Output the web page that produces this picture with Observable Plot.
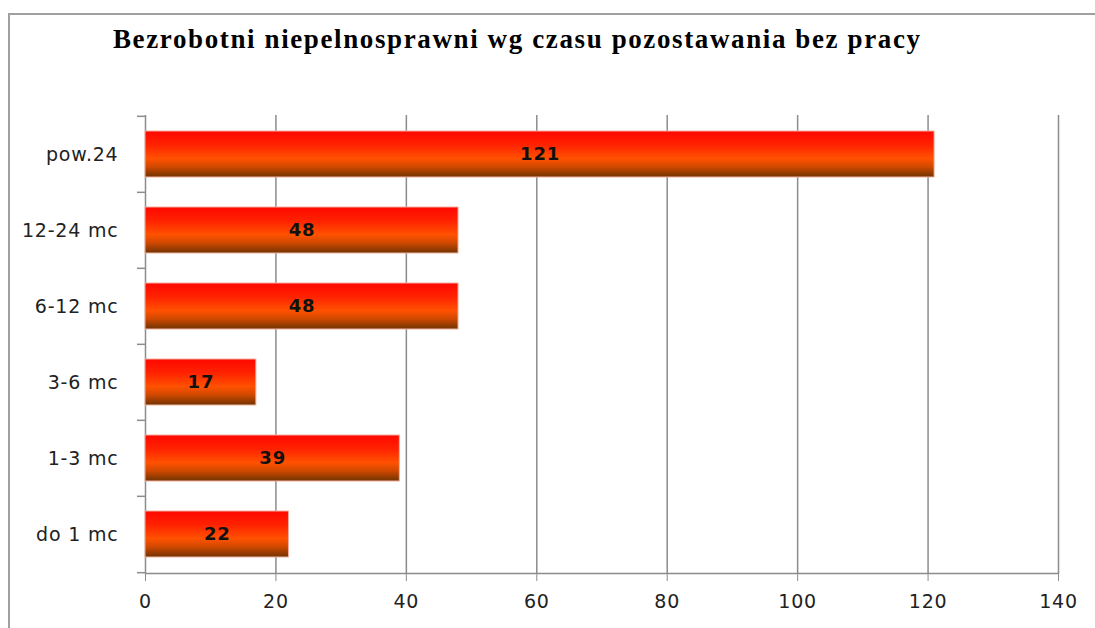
<!DOCTYPE html>
<html>
<head>
<meta charset="utf-8">
<script src="https://cdn.jsdelivr.net/npm/d3@7"></script>
<script src="https://cdn.jsdelivr.net/npm/@observablehq/plot@0.6"></script>
<style>
  html, body { margin: 0; padding: 0; background: #fff; }
  #wrap { position: relative; width: 1095px; height: 628px; overflow: hidden; background: #fff; }
  #frame { position: absolute; left: 8px; top: 13px; right: -10px; bottom: -10px;
           border-left: 2px solid #a0a0a0; border-top: 2px solid #a0a0a0; }
  #title { position: absolute; left: 113px; top: 24px; margin: 0; white-space: nowrap;
           font-family: "Liberation Serif", "Times New Roman", serif; font-weight: bold;
           font-size: 27px; line-height: 30px; color: #000; }
  #chart { position: absolute; left: 0; top: 0; }
</style>
</head>
<body>
<div id="wrap">
  <div id="frame"></div>
  <div id="title"></div>
  <div id="chart"></div>
</div>
<script>
const title = "Bezrobotni niepelnosprawni wg czasu pozostawania bez pracy";
const categories = ["pow.24", "12-24 mc", "6-12 mc", "3-6 mc", "1-3 mc", "do 1 mc"];
const values = [121, 48, 48, 17, 39, 22];
const xTicks = [0, 20, 40, 60, 80, 100, 120, 140];

const data = categories.map((c, i) => ({category: c, value: values[i]}));

// title: fit to reference width with letter spacing
const titleEl = document.getElementById("title");
titleEl.textContent = title;
const ctx = document.createElement("canvas").getContext("2d");
ctx.font = "bold 27px 'Liberation Serif'";
const tw = ctx.measureText(title).width;
titleEl.style.letterSpacing = ((807 - tw) / (title.length - 1)) + "px";

const W = 1095, H = 628, mT = 115, mB = 55, mL = 145, mR = 37;
const step = (H - mT - mB) / categories.length;
const gray = "#8c8c8c";

const chart = Plot.plot({
  width: W, height: H,
  marginTop: mT, marginBottom: mB, marginLeft: mL, marginRight: mR,
  style: {fontFamily: "'DejaVu Sans', Verdana, sans-serif", background: "transparent", color: "#222"},
  x: {domain: [0, 140]},
  y: {domain: categories, paddingInner: 0.4, paddingOuter: 0.2},
  marks: [
    Plot.ruleX(xTicks, {stroke: gray, strokeWidth: 1.5}),
    Plot.frame({anchor: "bottom", stroke: gray, strokeWidth: 1.5}),
    Plot.ruleY(categories, {y: d => d, x1: 0, x2: 0, insetLeft: -8, dy: -step / 2, stroke: gray, strokeWidth: 1.5}),
    Plot.ruleY(categories.slice(-1), {y: d => d, x1: 0, x2: 0, insetLeft: -8, dy: step / 2, stroke: gray, strokeWidth: 1.5}),
    Plot.axisX({ticks: xTicks, tickSize: 8, tickPadding: 13, stroke: gray, fontSize: 19, label: null, tickFormat: d => String(d)}),
    Plot.axisY({tickSize: 0, tickPadding: 27, fontSize: 19, label: null}),
    Plot.barX(data, {x: "value", y: "category", fill: "url(#barGrad)", stroke: "#f2b0a0", strokeWidth: 1}),
    Plot.text(data, {x: d => d.value / 2, y: "category", text: d => String(d.value), fontSize: 18, fontWeight: "bold", fill: "#111"})
  ]
});

// gradient definition for bars
const defs = d3.select(chart).insert("defs", ":first-child");
const g = defs.append("linearGradient").attr("id", "barGrad").attr("x1", 0).attr("y1", 0).attr("x2", 0).attr("y2", 1);
[["0%", "#ff0800"], ["30%", "#ff2200"], ["60%", "#ff5200"], ["78%", "#d04800"], ["100%", "#703400"]]
  .forEach(([o, c]) => g.append("stop").attr("offset", o).attr("stop-color", c));

d3.select(chart).selectAll("text").style("letter-spacing", "0.8px");
document.getElementById("chart").appendChild(chart);
</script>
</body>
</html>
